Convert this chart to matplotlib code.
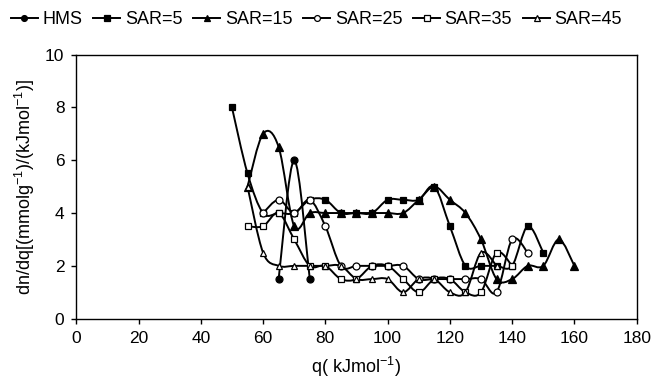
import numpy as np
import matplotlib
matplotlib.use("Agg")
import matplotlib.pyplot as plt
from matplotlib.path import Path
from matplotlib.patches import PathPatch
from matplotlib.lines import Line2D

plt.rcParams['font.family'] = ['Liberation Sans', 'DejaVu Sans']
plt.rcParams['mathtext.fontset'] = 'custom'
plt.rcParams['mathtext.rm'] = 'Liberation Sans'
plt.rcParams['mathtext.it'] = 'Liberation Sans'

# data
hms_x = [65, 70, 75]
hms_y = [1.5, 6, 1.5]

sar5_x = [50, 55, 60, 65, 70, 75, 80, 85, 90, 95, 100, 105, 110, 115, 120, 125, 130, 135, 140, 145, 150]
sar5_y = [8, 5.5, 4, 4, 4, 4.5, 4.5, 4, 4, 4, 4.5, 4.5, 4.5, 5, 3.5, 2, 2, 2, 2, 3.5, 2.5]

sar15_x = [55, 60, 65, 70, 75, 80, 85, 90, 95, 100, 105, 110, 115, 120, 125, 130, 135, 140, 145, 150, 155, 160]
sar15_y = [5, 7, 6.5, 3.5, 4, 4, 4, 4, 4, 4, 4, 4.5, 5, 4.5, 4, 3, 1.5, 1.5, 2, 2, 3, 2]

sar25_x = [60, 65, 70, 75, 80, 85, 90, 95, 100, 105, 110, 115, 120, 125, 130, 135, 140, 145]
sar25_y = [4, 4.5, 4, 4.5, 3.5, 2, 2, 2, 2, 2, 1.5, 1.5, 1.5, 1.5, 1.5, 1, 3, 2.5]

sar35_x = [55, 60, 65, 70, 75, 80, 85, 90, 95, 100, 105, 110, 115, 120, 125, 130, 135, 140]
sar35_y = [3.5, 3.5, 4, 3, 2, 2, 1.5, 1.5, 2, 2, 1.5, 1, 1.5, 1.5, 1, 1, 2.5, 2]

sar45_x = [55, 60, 65, 70, 75, 80, 85, 90, 95, 100, 105, 110, 115, 120, 125, 130, 135]
sar45_y = [5, 2.5, 2, 2, 2, 2, 2, 1.5, 1.5, 1.5, 1, 1.5, 1.5, 1, 1, 2.5, 2]

labels = ['HMS', 'SAR=5', 'SAR=15', 'SAR=25', 'SAR=35', 'SAR=45']


def smooth_path(x, y):
    # Bezier smoothing like a spreadsheet "smoothed line"
    pts = np.column_stack([x, y]).astype(float)
    n = len(pts)
    verts = [pts[0]]
    codes = [Path.MOVETO]
    for i in range(n - 1):
        p0 = pts[i - 1] if i > 0 else pts[i]
        p1 = pts[i]
        p2 = pts[i + 1]
        p3 = pts[i + 2] if i + 2 < n else pts[i + 1]
        verts += [p1 + (p2 - p0) / 6, p2 - (p3 - p1) / 6, p2]
        codes += [Path.CURVE4] * 3
    return Path(verts, codes)


fig = plt.figure(figsize=(6.53, 3.87), dpi=100)
ax = fig.add_axes([0.1168, 0.1765, 0.8582, 0.6826])

series = [
    (hms_x, hms_y, 'o', 'black', 5),
    (sar5_x, sar5_y, 's', 'black', 5),
    (sar15_x, sar15_y, '^', 'black', 5.5),
    (sar25_x, sar25_y, 'o', 'white', 5),
    (sar35_x, sar35_y, 's', 'white', 5),
    (sar45_x, sar45_y, '^', 'white', 5),
]

handles = []
for (xs, ys, m, fc, ms), lab in zip(series, labels):
    ax.add_patch(PathPatch(smooth_path(xs, ys), facecolor='none', edgecolor='black', lw=1.4, zorder=2))
    ax.plot(xs, ys, ls='none', marker=m, mfc=fc, mec='black', mew=0.9, ms=ms, zorder=3)
    handles.append(Line2D([], [], color='black', lw=1.4, marker=m, mfc=fc, mec='black', mew=0.9, ms=ms - 0.8))

ax.set_xlim(0, 180)
ax.set_ylim(0, 10)
ax.set_xticks(range(0, 181, 20))
ax.set_yticks(range(0, 11, 2))
ax.tick_params(direction='out', length=3.5, width=1, labelsize=12.5, pad=5)
for s in ax.spines.values():
    s.set_linewidth(1)

ax.set_xlabel('q( kJmol$^{-1}$)', fontsize=13, labelpad=7)
ax.set_ylabel('dn/dq[(mmolg$^{-1}$)/(kJmol$^{-1}$)]', fontsize=13, labelpad=6)

fig.legend(handles, labels, loc='upper left', bbox_to_anchor=(0.0, 1.0), ncol=6, frameon=False,
           fontsize=13, handlelength=1.5, handletextpad=0.25, columnspacing=0.6, borderaxespad=0.2)

fig.savefig('out.png', dpi=100)
